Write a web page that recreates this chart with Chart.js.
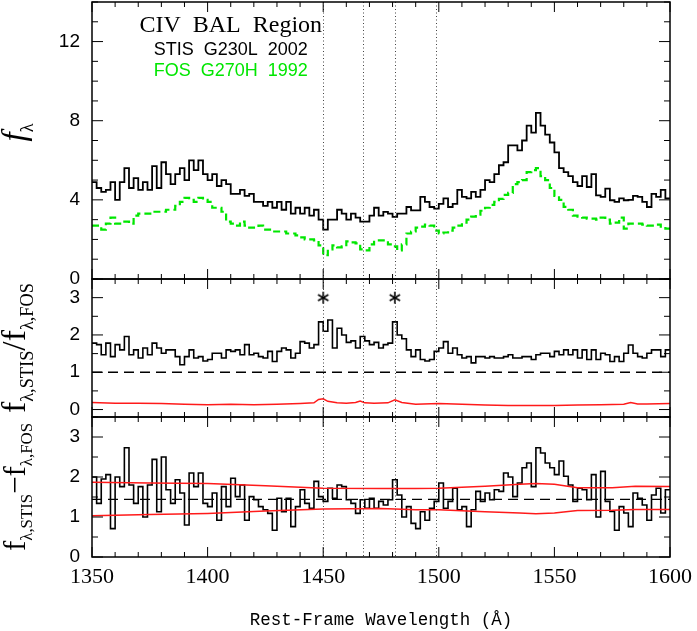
<!DOCTYPE html>
<html>
<head>
<meta charset="utf-8">
<script src="https://cdn.jsdelivr.net/npm/chart.js@4/dist/chart.umd.min.js"></script>
<style>
  html, body { margin: 0; padding: 0; background: #fff; }
</style>
</head>
<body>
<canvas id="myChart" width="697" height="631"></canvas>
<script>
// left edge of each 2 A bin (rest-frame wavelength)
var wave = [
  1350,1352,1354,1356,1358,1360,1362,1364,1366,1368,
  1370,1372,1374,1376,1378,1380,1382,1384,1386,1388,
  1390,1392,1394,1396,1398,1400,1402,1404,1406,1408,
  1410,1412,1414,1416,1418,1420,1422,1424,1426,1428,
  1430,1432,1434,1436,1438,1440,1442,1444,1446,1448,
  1450,1452,1454,1456,1458,1460,1462,1464,1466,1468,
  1470,1472,1474,1476,1478,1480,1482,1484,1486,1488,
  1490,1492,1494,1496,1498,1500,1502,1504,1506,1508,
  1510,1512,1514,1516,1518,1520,1522,1524,1526,1528,
  1530,1532,1534,1536,1538,1540,1542,1544,1546,1548,
  1550,1552,1554,1556,1558,1560,1562,1564,1566,1568,
  1570,1572,1574,1576,1578,1580,1582,1584,1586,1588,
  1590,1592,1594,1596,1598
];
var waveEnd = 1600;

// STIS G230L 2002 flux
var stis = [
  4.9,4.6,4.4,4.5,4.9,4.0,4.9,5.6,4.6,5.1,
  4.5,4.9,4.5,5.7,4.6,5.9,5.3,4.8,5.3,5.6,
  5.0,6.0,5.5,6.0,5.3,5.0,5.3,4.7,5.0,4.8,
  4.3,4.3,4.5,4.2,4.3,3.9,3.9,3.7,3.9,3.6,
  3.9,3.5,3.9,3.3,3.6,3.3,3.6,3.2,3.5,3.0,
  2.5,3.0,3.0,3.5,3.3,3.0,3.3,3.1,2.9,2.9,
  3.2,3.6,3.2,3.39,3.3,3.14,3.3,3.3,3.64,3.47,
  3.47,4.15,3.9,3.64,3.56,3.8,4.07,3.64,3.8,4.5,
  4.15,4.07,4.4,4.15,4.5,5.0,4.9,5.3,5.75,5.9,
  6.75,6.75,6.5,7.0,7.75,7.4,8.4,7.75,7.3,6.9,
  6.4,5.6,5.4,5.2,4.9,4.7,5.2,4.65,5.3,4.23,
  4.15,4.57,3.98,3.9,4.07,3.98,4.0,4.2,4.15,3.9,
  3.64,4.3,4.15,4.5,4.07
];

// FOS G270H 1992 flux
var fos = [
  2.7,2.7,2.5,2.8,3.1,2.8,2.8,2.9,2.8,3.2,
  3.3,3.3,3.3,3.4,3.4,3.4,3.5,3.5,3.7,3.9,
  4.1,4.0,3.9,4.1,4.0,3.9,3.6,3.6,3.4,2.9,
  2.8,2.7,2.9,2.7,2.6,2.6,2.7,2.5,2.5,2.4,
  2.4,2.4,2.3,2.3,2.2,2.1,2.0,2.0,1.95,1.7,
  1.2,1.5,1.7,1.6,1.65,1.9,1.85,1.8,1.5,1.45,
  1.75,1.95,1.95,1.95,1.75,1.65,1.45,1.75,2.3,2.4,
  2.6,2.65,2.75,2.7,2.45,2.3,2.35,2.45,2.6,2.7,
  2.85,3.0,3.15,3.25,3.45,3.6,3.75,3.9,4.05,4.25,
  4.35,4.8,4.9,5.0,5.4,5.5,5.6,5.2,5.0,4.6,
  4.2,4.0,3.65,3.5,3.2,3.15,3.1,3.05,3.05,3.0,
  3.1,3.0,2.8,2.85,3.1,2.55,2.8,2.8,2.8,2.75,
  2.7,2.7,2.75,2.65,2.55
];

// f(STIS) / f(FOS)
var ratio = [
  1.78,1.74,1.47,1.78,1.42,1.74,1.6,1.96,1.47,1.6,
  1.38,1.65,1.47,1.78,1.65,1.51,1.6,1.6,1.42,1.2,
  1.42,1.6,1.38,1.42,1.3,1.34,1.51,1.51,1.38,1.6,
  1.56,1.6,1.47,1.74,1.47,1.51,1.42,1.38,1.56,1.29,
  1.56,1.65,1.6,1.38,1.51,1.82,1.78,1.65,1.74,2.35,
  2.1,2.4,1.65,2.18,2.0,1.8,1.84,1.65,1.96,1.84,
  1.74,1.8,1.65,1.74,1.78,2.35,2.0,1.9,1.6,1.42,
  1.6,1.34,1.3,1.34,1.56,1.65,1.82,1.51,1.65,1.47,
  1.38,1.42,1.25,1.42,1.42,1.38,1.42,1.38,1.38,1.42,
  1.47,1.38,1.38,1.42,1.42,1.34,1.47,1.51,1.51,1.42,
  1.56,1.47,1.6,1.47,1.6,1.38,1.6,1.34,1.6,1.34,
  1.51,1.47,1.29,1.42,1.29,1.51,1.73,1.51,1.42,1.38,
  1.51,1.6,1.6,1.42,1.6
];

// f(STIS) - f(FOS)
var diff = [
  2.0,1.34,1.95,2.06,0.71,2.0,1.76,2.73,1.8,1.34,
  1.76,1.0,1.8,2.44,1.13,2.5,1.68,1.34,1.93,1.6,
  0.8,2.1,1.76,2.1,1.34,1.26,1.6,0.92,1.76,1.26,
  1.97,1.51,1.8,0.92,1.51,1.43,1.26,1.18,1.09,0.67,
  1.47,1.13,1.47,0.76,1.26,1.68,1.34,1.22,1.89,1.51,
  1.39,1.72,1.47,1.8,1.76,1.43,1.34,1.09,1.43,1.22,
  1.47,1.22,1.39,1.3,1.43,1.93,1.55,1.0,1.26,0.84,
  0.71,1.13,0.92,1.22,1.39,1.85,1.22,1.39,1.72,1.18,
  1.26,0.76,1.18,1.64,1.39,1.6,1.43,1.68,1.64,2.1,
  2.0,1.51,1.85,2.23,2.35,1.76,2.73,2.6,2.35,2.23,
  2.06,2.4,2.02,1.8,1.39,1.72,1.68,1.43,2.06,1.0,
  2.14,1.39,1.14,0.67,1.26,1.1,0.76,1.6,1.47,1.3,
  0.92,1.55,1.72,1.1,1.68
];

// error of the ratio (red, middle panel)
var errRatioWave = [1350,1360,1370,1380,1390,1400,1410,1420,1430,1440,1446,1448,1450,1452,1456,1460,1464,1466,1468,1472,1478,1481,1484,1490,1500,1510,1520,1530,1540,1550,1560,1570,1580,1583,1586,1590,1600];
var errRatio = [0.19,0.17,0.17,0.16,0.14,0.13,0.14,0.13,0.14,0.16,0.18,0.27,0.29,0.22,0.18,0.17,0.19,0.23,0.18,0.17,0.18,0.26,0.19,0.14,0.16,0.14,0.12,0.11,0.11,0.11,0.12,0.13,0.14,0.19,0.15,0.15,0.16];

// error band of the difference (red, bottom panel)
var errDiffWave = [1350,1375,1400,1425,1450,1475,1490,1500,1520,1535,1542,1550,1560,1575,1585,1600];
var errDiffHi = [1.87,1.85,1.84,1.78,1.72,1.71,1.71,1.72,1.77,1.82,1.84,1.82,1.73,1.73,1.77,1.76];
var errDiffLo = [1.03,1.06,1.09,1.15,1.2,1.21,1.18,1.18,1.13,1.10,1.08,1.10,1.16,1.17,1.19,1.19];

var ratioRef = 1.0;      // dashed line, middle panel
var diffRef = 1.44;      // dashed line, bottom panel
var markWave = [1450, 1467, 1481, 1499];   // dotted lines
var starWave = [1450, 1481];               // asterisks
var starLevel = 3.0;

// tick labels
var xTicks = [1350, 1400, 1450, 1500, 1550, 1600];
var yTopTicks = [0, 4, 8, 12];
var yMidTicks = [0, 1, 2, 3];
var yBotTicks = [0, 1, 2, 3];

function histo(vals) {
    var pts = wave.map((w, i) => ({x: w, y: vals[i]}));
    pts.push({x: waveEnd, y: vals[vals.length - 1]});
    return pts;
}
function curve(xs, ys) {
    return xs.map((w, i) => ({x: w, y: ys[i]}));
}
function flat(v) {
    return [{x: 1350, y: v}, {x: 1600, y: v}];
}

//asterisco de 6 brazos
function asterisk(size) {
    var c = document.createElement('canvas');
    c.width = size; c.height = size;
    var g = c.getContext('2d');
    g.strokeStyle = '#000';
    g.lineWidth = 1.6;
    var m = size / 2, r = size / 2 - 1;
    for (var k = 0; k < 3; k++) {
        var a = Math.PI / 2 + k * Math.PI / 3;
        g.beginPath();
        g.moveTo(m + r * Math.cos(a), m + r * Math.sin(a));
        g.lineTo(m - r * Math.cos(a), m - r * Math.sin(a));
        g.stroke();
    }
    return c;
}

var panels = [
    {id: 'yTop', minor: 1, major: 4, min: 0, max: 14},
    {id: 'yMid', minor: 0.5, major: 1, min: -0.2, max: 3.5},
    {id: 'yBot', minor: 0.5, major: 1, min: 0, max: 3.5}
];

// sin padding automatico de las etiquetas
function noPad(s) {
    s.paddingTop = 0; s.paddingBottom = 0;
    s.paddingLeft = 0; s.paddingRight = 0;
}

//Marco, ticks hacia dentro y lineas punteadas
const framePlugin = {
    id: 'framePlugin',
    afterDatasetsDraw(chart) {
        const ctx = chart.ctx;
        const xs = chart.scales.x;
        const ca = chart.chartArea;
        ctx.save();

        // lineas punteadas verticales
        ctx.strokeStyle = '#444';
        ctx.lineWidth = 1;
        ctx.setLineDash([1, 2.5]);
        markWave.forEach(w => {
            const px = Math.round(xs.getPixelForValue(w)) + 0.5;
            ctx.beginPath();
            ctx.moveTo(px, ca.top);
            ctx.lineTo(px, ca.bottom);
            ctx.stroke();
        });
        ctx.setLineDash([]);

        ctx.strokeStyle = '#000';
        panels.forEach(p => {
            const s = chart.scales[p.id];
            const top = s.top, bot = s.bottom;
            ctx.lineWidth = 1;
            ctx.beginPath();
            for (let v = 1350; v <= 1600; v += 10) {
                const px = xs.getPixelForValue(v);
                const len = (v % 50 === 0) ? 10 : 5;
                ctx.moveTo(px, top); ctx.lineTo(px, top + len);
                ctx.moveTo(px, bot); ctx.lineTo(px, bot - len);
            }
            for (let k = Math.ceil(p.min / p.minor); k * p.minor <= p.max + 1e-9; k++) {
                const v = k * p.minor;
                const py = s.getPixelForValue(v);
                const isMajor = Math.abs(v / p.major - Math.round(v / p.major)) < 1e-6;
                const len = isMajor ? 11 : 6;
                ctx.moveTo(ca.left, py); ctx.lineTo(ca.left + len, py);
                ctx.moveTo(ca.right, py); ctx.lineTo(ca.right - len, py);
            }
            ctx.stroke();
            ctx.lineWidth = 1.5;
            ctx.strokeRect(ca.left, top, ca.right - ca.left, bot - top);
        });
        ctx.restore();
    }
};

function drawRich(ctx, parts, cx, cy, target) {
    ctx.save();
    var total = 0;
    parts.forEach(p => { ctx.font = p.font; p.w = ctx.measureText(p.t).width; total += p.w; });
    var k = target / total;
    ctx.translate(cx, cy);
    ctx.rotate(-Math.PI / 2);
    ctx.scale(k, k);
    ctx.fillStyle = '#000';
    ctx.textBaseline = 'alphabetic';
    var x = -total / 2;
    parts.forEach(p => {
        ctx.font = p.font;
        ctx.fillText(p.t, x, p.dy || 0);
        x += p.w;
    });
    ctx.restore();
}

//Textos: titulos de ejes y leyenda
const textPlugin = {
    id: 'textPlugin',
    afterDraw(chart) {
        const ctx = chart.ctx;
        const xs = chart.scales.x;
        const yt = chart.scales.yTop, ym = chart.scales.yMid, yb = chart.scales.yBot;
        const F = 'italic 22px "Liberation Serif"';
        const R = '22px "Liberation Serif"';
        const S = '12px "Liberation Serif"';

        drawRich(ctx, [{t: 'f', font: F}, {t: 'λ', font: S, dy: 5}],
            25, yt.getPixelForValue(7.4), 18);
        drawRich(ctx, [
            {t: 'f', font: R}, {t: 'λ,STIS', font: S, dy: 5},
            {t: '/', font: R},
            {t: 'f', font: R}, {t: 'λ,FOS', font: S, dy: 5}
        ], 25, (ym.top + ym.bottom) / 2, 130);
        drawRich(ctx, [
            {t: 'f', font: R}, {t: 'λ,STIS', font: S, dy: 5},
            {t: '\u2212', font: R},
            {t: 'f', font: R}, {t: 'λ,FOS', font: S, dy: 5}
        ], 25, (yb.top + yb.bottom) / 2, 128);

        ctx.save();
        ctx.fillStyle = '#000';
        ctx.textAlign = 'center';
        ctx.textBaseline = 'middle';
        ctx.font = '17.5px "Liberation Mono"';
        ctx.fillText('Rest-Frame Wavelength (\u00C5)', (chart.chartArea.left + chart.chartArea.right) / 2, 620);

        const lx = xs.getPixelForValue(1410);
        ctx.font = '24px "Liberation Serif"';
        ctx.fillText('CIV  BAL  Region', lx, yt.getPixelForValue(12.8));
        ctx.font = '18px "Liberation Sans"';
        ctx.fillText('STIS  G230L  2002', lx, yt.getPixelForValue(11.55));
        ctx.fillStyle = '#00e600';
        ctx.fillText('FOS  G270H  1992', lx, yt.getPixelForValue(10.5));
        ctx.restore();
    }
};

function yAxis(ticks, min, max, weight, stackWeight) {
    return {
        type: 'linear',
        position: 'left',
        stack: 'panels',
        stackWeight: stackWeight,
        weight: weight,
        min: min,
        max: max,
        afterFit: s => { s.width = 92; noPad(s); },
        afterBuildTicks: s => { s.ticks = ticks.map(v => ({value: v})); },
        grid: {display: false, drawTicks: false},
        border: {display: false},
        ticks: {
            color: '#000',
            padding: 12,
            autoSkip: false,
            font: {family: 'Liberation Sans', size: 19},
            callback: v => String(v)
        }
    };
}

const data = {
    datasets: [
        {label: 'FOS G270H 1992', data: histo(fos), yAxisID: 'yTop', stepped: 'before',
         borderColor: '#00e600', borderWidth: 2.2, borderDash: [7, 4], pointRadius: 0, fill: false},
        {label: 'STIS G230L 2002', data: histo(stis), yAxisID: 'yTop', stepped: 'before',
         borderColor: '#000', borderWidth: 1.8, pointRadius: 0, fill: false},

        {label: 'ref ratio', data: flat(ratioRef), yAxisID: 'yMid',
         borderColor: '#000', borderWidth: 1.3, borderDash: [10, 6], pointRadius: 0},
        {label: 'err ratio', data: curve(errRatioWave, errRatio), yAxisID: 'yMid',
         borderColor: '#ff1a1a', borderWidth: 1.5, pointRadius: 0},
        {label: 'ratio', data: histo(ratio), yAxisID: 'yMid', stepped: 'before',
         borderColor: '#000', borderWidth: 1.6, pointRadius: 0},
        {label: 'asterisk', data: starWave.map(w => ({x: w, y: starLevel})), yAxisID: 'yMid',
         showLine: false, pointStyle: asterisk(14), pointRadius: 7},

        {label: 'ref diff', data: flat(diffRef), yAxisID: 'yBot',
         borderColor: '#000', borderWidth: 1.3, borderDash: [10, 6], pointRadius: 0},
        {label: 'err hi', data: curve(errDiffWave, errDiffHi), yAxisID: 'yBot',
         borderColor: '#ff1a1a', borderWidth: 1.5, pointRadius: 0},
        {label: 'err lo', data: curve(errDiffWave, errDiffLo), yAxisID: 'yBot',
         borderColor: '#ff1a1a', borderWidth: 1.5, pointRadius: 0},
        {label: 'diff', data: histo(diff), yAxisID: 'yBot', stepped: 'before',
         borderColor: '#000', borderWidth: 1.6, pointRadius: 0}
    ]
};

const config = {
    type: 'line',
    data: data,
    options: {
        responsive: false,
        animation: false,
        devicePixelRatio: 1,
        layout: {autoPadding: false, padding: {top: 2, right: 27, left: 0, bottom: 0}},
        plugins: {legend: {display: false}, tooltip: {enabled: false}},
        scales: {
            x: {
                type: 'linear',
                position: 'bottom',
                min: 1350,
                max: 1600,
                afterFit: s => { s.height = 74; noPad(s); },
                afterBuildTicks: s => { s.ticks = xTicks.map(v => ({value: v})); },
                grid: {display: false, drawTicks: false},
                border: {display: false},
                ticks: {
                    color: '#000',
                    padding: 7,
                    maxRotation: 0,
                    autoSkip: false,
                    font: {family: 'Liberation Serif', size: 22},
                    callback: v => String(v)
                }
            },
            yTop: yAxis(yTopTicks, 0, 14, 3, 277),
            yMid: yAxis(yMidTicks, -0.2, 3.5, 2, 138),
            yBot: yAxis(yBotTicks, 0, 3.5, 1, 140)
        }
    },
    plugins: [framePlugin, textPlugin]
};

const myChart = new Chart(document.getElementById('myChart'), config);
</script>
</body>
</html>
